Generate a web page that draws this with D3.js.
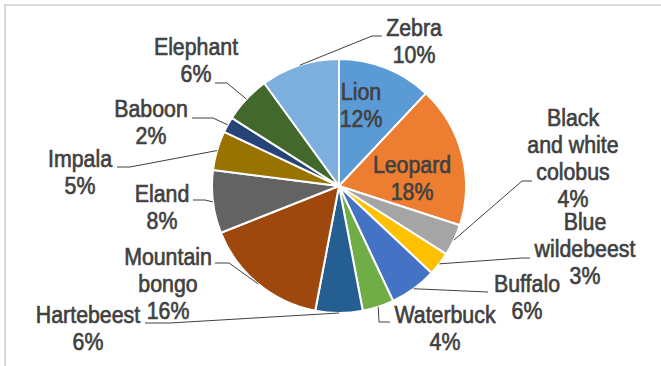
<!DOCTYPE html>
<html>
<head>
<meta charset="utf-8">
<script src="https://cdn.jsdelivr.net/npm/d3@7"></script>
<style>
  body { margin: 0; background: #fff; }
  .label { font-family: "Liberation Sans", Arial, sans-serif; font-size: 22px; fill: #404040; stroke: #404040; stroke-width: 0.6px; }
</style>
</head>
<body>
<div id="pie-chart"></div>
<script>
const animals = ['Lion', 'Leopard', 'Black and white colobus', 'Blue wildebeest', 'Buffalo', 'Waterbuck', 'Hartebeest', 'Mountain bongo', 'Eland', 'Impala', 'Baboon', 'Elephant', 'Zebra'];
const shares = [12, 18, 4, 3, 6, 4, 6, 16, 8, 5, 2, 6, 10];
const labelLines = [['Lion'], ['Leopard'], ['Black', 'and white', 'colobus'], ['Blue', 'wildebeest'], ['Buffalo'], ['Waterbuck'], ['Hartebeest'], ['Mountain', 'bongo'], ['Eland'], ['Impala'], ['Baboon'], ['Elephant'], ['Zebra']];
const sliceColors = ['#5B9BD5', '#ED7D31', '#A5A5A5', '#FFC000', '#4472C4', '#70AD47', '#255E91', '#9E480E', '#636363', '#997300', '#264478', '#43682B', '#7CAFDD'];

// label placement: [centre x, first baseline], leader elbow and end (null = inside label)
const labelPos = [[361, 100], [412, 173], [573, 126], [585, 230], [527, 292], [445, 323], [88, 323], [168, 265], [162, 202], [80, 167], [151, 117], [196, 55], [414, 36]];
const leaderElbow = [null, null, [522, 181], [522, 258], [488, 292], [379, 322], [170, 323], [229, 263], [205, 200], [130, 167], [213, 118], [227, 83], [372, 36]];
const leaderEnd = [null, null, [532, 181], [530, 258], [488, 292], [390, 322], [145, 323], [215, 263], [193, 200], [117, 167], [192, 118], [215, 83], [382, 36]];

let dimensions = {
  width: 661,
  height: 366,
  cx: 339,
  cy: 186,
  radius: 127,
  lineHeight: 27,
}

const data = animals.map((a, i) => ({ animal: a, share: shares[i], lines: labelLines[i], i: i }))

const wrapper = d3.select('#pie-chart')
  .append('svg')
  .attr('width', dimensions.width)
  .attr('height', dimensions.height)

// frame
wrapper.append('rect')
  .attr('x', 5)
  .attr('y', 5)
  .attr('width', 700)
  .attr('height', 400)
  .attr('fill', 'none')
  .attr('stroke', '#d9d9d9')
  .attr('stroke-width', 2)

const pieChart = wrapper.append('g')
  .attr('transform', `translate(${dimensions.cx},${dimensions.cy})`)

const colorScale = d3.scaleOrdinal()
  .domain(animals)
  .range(sliceColors)

const pie = d3.pie()
  .sort(null)
  .value(d => d.share)

const arcs = pie(data)

const arc = d3.arc()
  .innerRadius(0)
  .outerRadius(dimensions.radius)

//// Draw slices
pieChart.selectAll('path')
  .data(arcs)
  .join('path')
  .attr('d', arc)
  .attr('fill', d => colorScale(d.data.animal))
  .attr('stroke', '#fff')
  .attr('stroke-width', 2)
  .attr('stroke-linejoin', 'round')

//// Leader lines
const edgePoint = d => {
  const a = (d.startAngle + d.endAngle) / 2
  return [dimensions.cx + dimensions.radius * Math.sin(a), dimensions.cy - dimensions.radius * Math.cos(a)]
}

wrapper.append('g')
  .selectAll('polyline')
  .data(arcs.filter(d => leaderElbow[d.data.i]))
  .join('polyline')
  .attr('points', d => [edgePoint(d), leaderElbow[d.data.i], leaderEnd[d.data.i]].map(p => p.join(',')).join(' '))
  .attr('fill', 'none')
  .attr('stroke', '#404040')
  .attr('stroke-width', 1)

//// Labels
const labels = wrapper.append('g')
  .selectAll('text')
  .data(arcs)
  .join('text')
  .attr('class', 'label')
  .attr('text-anchor', 'middle')
  .attr('transform', d => `translate(${labelPos[d.data.i][0]},${labelPos[d.data.i][1]}) scale(0.97,1.05)`)

labels.each(function(d) {
  const t = d3.select(this)
  const lines = d.data.lines.concat([d.data.share + '%'])
  t.selectAll('tspan')
    .data(lines)
    .join('tspan')
    .attr('x', 0)
    .attr('y', (l, k) => k * dimensions.lineHeight / 1.05)
    .text(l => l)
})
</script>
</body>
</html>
